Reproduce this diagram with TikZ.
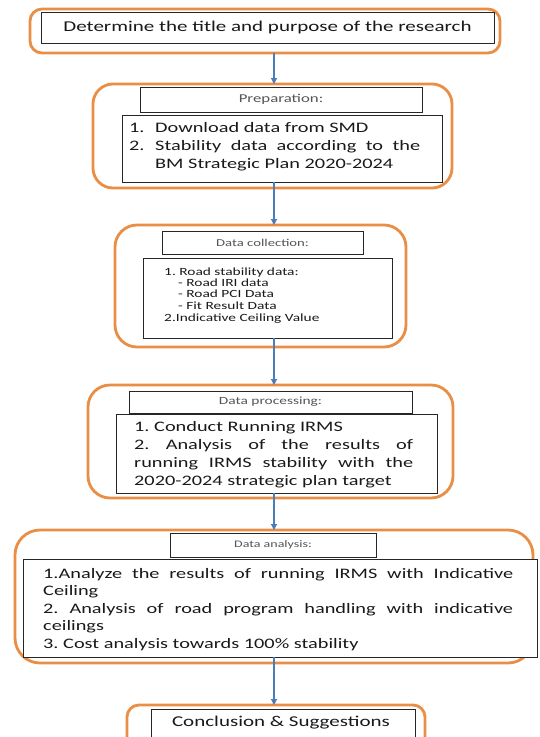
\documentclass[tikz,border=0pt]{standalone}
\usepackage{fontspec}
\setmainfont{Carlito}[FakeStretch=1.4]
\usetikzlibrary{arrows.meta}
\definecolor{orng}{RGB}{233,142,68}
\definecolor{arrblue}{RGB}{74,126,187}
\definecolor{txt}{RGB}{25,25,25}
\definecolor{hdr}{RGB}{85,85,85}
\frenchspacing
\begin{document}
\begin{tikzpicture}[x=1pt,y=-1pt,
  obox/.style={draw=orng, line width=2.8pt, rounded corners=#1, inner sep=0pt, outer sep=0pt},
  bbox/.style={draw=black!85, line width=1pt, fill=white, inner sep=0pt, outer sep=0pt},
  tl/.style={anchor=base west, inner sep=0pt, text=txt, font=\fontsize{14.5}{17.5}\selectfont},
  ts/.style={anchor=base west, inner sep=0pt, text=txt, font=\fontsize{11}{12}\selectfont},
  arr/.style={draw=arrblue, line width=1.2pt, -{Triangle[length=6pt,width=6pt]}}
]
\useasboundingbox (0,0) rectangle (539,737);
\clip (0,0) rectangle (539,737);
\fill[white] (0,0) rectangle (539,737);
\coordinate (ax) at (274,0);

% Box 1
\node[obox=12, minimum width=470pt, minimum height=44pt] (o1) at (265,31) {};
\node[bbox, minimum width=453pt, minimum height=31pt, text=txt, font=\fontsize{15}{18}\selectfont] (h1) at (267.5,27.5) {Determine the title and purpose of the research};

% Box 2
\node[obox=20, minimum width=359pt, minimum height=104pt] (o2) at (272.5,136) {};
\node[bbox, minimum width=282pt, minimum height=25pt, text=hdr, font=\fontsize{12}{14}\selectfont] (h2) at (281,99.5) {Preparation:};
\node[bbox, minimum width=320pt, minimum height=67pt] (c2) at (282,148.5) {};
\node[tl] (l21) at (129,132) {1.};
\node[tl] (l21b) at (155,132) {Download data from SMD};
\node[tl] (l22) at (129,150) {2.};
\node[tl] (l22b) at (155,150) {\makebox[265pt][s]{Stability data according to the}};
\node[tl] (l23) at (155,168) {BM Strategic Plan 2020-2024};

% Box 3
\node[obox=22, minimum width=291pt, minimum height=122pt] (o3) at (260.5,286) {};
\node[bbox, minimum width=201pt, minimum height=23pt, text=hdr, font=\fontsize{10.5}{12}\selectfont] (h3) at (262.5,242.5) {Data collection:};
\node[bbox, minimum width=249pt, minimum height=80pt] (c3) at (267.5,298) {};
\node[ts] (l31) at (164,275) {1. Road stability data:};
\node[ts] (l32) at (178,286) {- Road IRI data};
\node[ts] (l33) at (178,297) {- Road PCI Data};
\node[ts] (l34) at (178,309) {- Fit Result Data};
\node[ts] (l35) at (164,321) {2.Indicative Ceiling Value};

% Box 4
\node[obox=22, minimum width=365pt, minimum height=113pt] (o4) at (270.5,441.5) {};
\node[bbox, minimum width=283pt, minimum height=22pt, text=hdr, font=\fontsize{11}{13}\selectfont] (h4) at (270.5,402) {Data processing:};
\node[bbox, minimum width=321pt, minimum height=79pt] (c4) at (276.5,453.5) {};
\node[tl] (l41) at (134,431) {1. Conduct Running IRMS};
\node[tl] (l42) at (134,449) {\makebox[279pt][s]{2. Analysis of the results of}};
\node[tl] (l43) at (134,467) {\makebox[279pt][s]{running IRMS stability with the}};
\node[tl] (l44) at (134,485) {2020-2024 strategic plan target};

% Box 5
\node[obox=25, minimum width=518pt, minimum height=133pt] (o5) at (274,596.5) {};
\node[bbox, minimum width=206pt, minimum height=24pt, text=hdr, font=\fontsize{10}{12}\selectfont] (h5) at (273,545) {Data analysis:};
\node[bbox, minimum width=514pt, minimum height=98pt] (c5) at (280,608) {};
\node[tl] (l51) at (43,578) {\makebox[470pt][s]{1.Analyze the results of running IRMS with Indicative}};
\node[tl] (l52) at (43,595) {Ceiling};
\node[tl] (l53) at (43,613) {\makebox[470pt][s]{2. Analysis of road program handling with indicative}};
\node[tl] (l54) at (43,630) {ceilings};
\node[tl] (l55) at (43,648) {3. Cost analysis towards 100\% stability};

% Box 6
\node[obox=12, minimum width=298pt, minimum height=45pt] (o6) at (276,727.5) {};
\node[bbox, minimum width=264pt, minimum height=41pt] (h6) at (283,729.5) {};
\node[inner sep=0pt, text=txt, font=\fontsize{15}{18}\selectfont] (t6) at (281,723) {Conclusion \& Suggestions};

% Arrows
\draw[arr] (o1.south -| ax) -- (o2.north -| ax);
\draw[arr] (c2.south -| ax) -- (o3.north -| ax);
\draw[arr] (c3.south -| ax) -- (o4.north -| ax);
\draw[arr] (c4.south -| ax) -- (o5.north -| ax);
\draw[arr] (c5.south -| ax) -- (o6.north -| ax);
\end{tikzpicture}
\end{document}
